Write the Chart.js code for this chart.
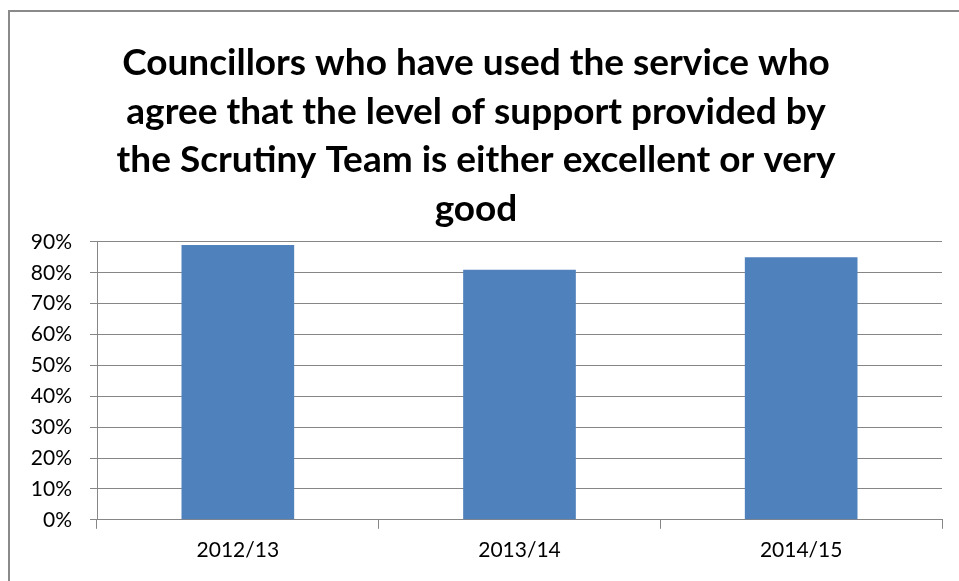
<!DOCTYPE html>
<html>
<head>
<meta charset="utf-8">
<script src="https://cdn.jsdelivr.net/npm/chart.js@4"></script>
<style>
  html, body { margin: 0; padding: 0; background: #fff; overflow: hidden; }
  #wrap { position: relative; width: 959px; height: 581px; }
  #frame { position: absolute; left: 8px; top: 10px; width: 1000px; height: 1000px;
           border: 2px solid #8a8a8a; box-sizing: border-box; }
  canvas { position: absolute; left: 0; top: 0; }
</style>
</head>
<body>
<div id="wrap">
  <div id="frame"></div>
  <canvas id="myChart" width="959" height="581"></canvas>
</div>
<script>
const years = ["2012/13", "2013/14", "2014/15"];
const agreePct = [89, 81, 85];
const yTicks = [0, 10, 20, 30, 40, 50, 60, 70, 80, 90];
const titleLines = [
  "Councillors who have used the service who",
  "agree that the level of support provided by",
  "the Scrutiny Team is either excellent or very",
  "good"
];

const ctx = document.getElementById("myChart");
const fontFamily = "Lato, 'Open Sans', sans-serif";
const gridGrey = "#868686";

new Chart(ctx, {
  type: "bar",
  data: {
    labels: years,
    datasets: [{
      label: "Agree",
      data: agreePct,
      backgroundColor: "#4F81BD",
      barPercentage: 0.4,
      categoryPercentage: 1
    }]
  },
  options: {
    responsive: false,
    animation: false,
    layout: { padding: { left: 10, right: 17, top: 0, bottom: 9 } },
    plugins: {
      legend: { display: false },
      tooltip: { enabled: false },
      title: {
        display: true,
        text: titleLines,
        color: "#000",
        font: { family: fontFamily, size: 37, weight: "bold", lineHeight: 1.31 },
        padding: { top: 39, bottom: 9 }
      }
    },
    scales: {
      x: {
        grid: {
          offset: true,
          drawOnChartArea: false,
          drawTicks: true,
          tickLength: 9,
          color: gridGrey
        },
        border: { color: gridGrey },
        ticks: { color: "#000", font: { family: fontFamily, size: 21 }, padding: 9 }
      },
      y: {
        min: 0,
        max: 90,
        afterBuildTicks: scale => { scale.ticks = yTicks.map(v => ({ value: v })); },
        afterFit: scale => { scale.width = 87; },
        grid: { color: gridGrey, tickLength: 7 },
        border: { color: gridGrey },
        ticks: {
          color: "#000",
          font: { family: fontFamily, size: 21 },
          padding: 18,
          callback: v => v + "%"
        }
      }
    }
  }
});
</script>
</body>
</html>
